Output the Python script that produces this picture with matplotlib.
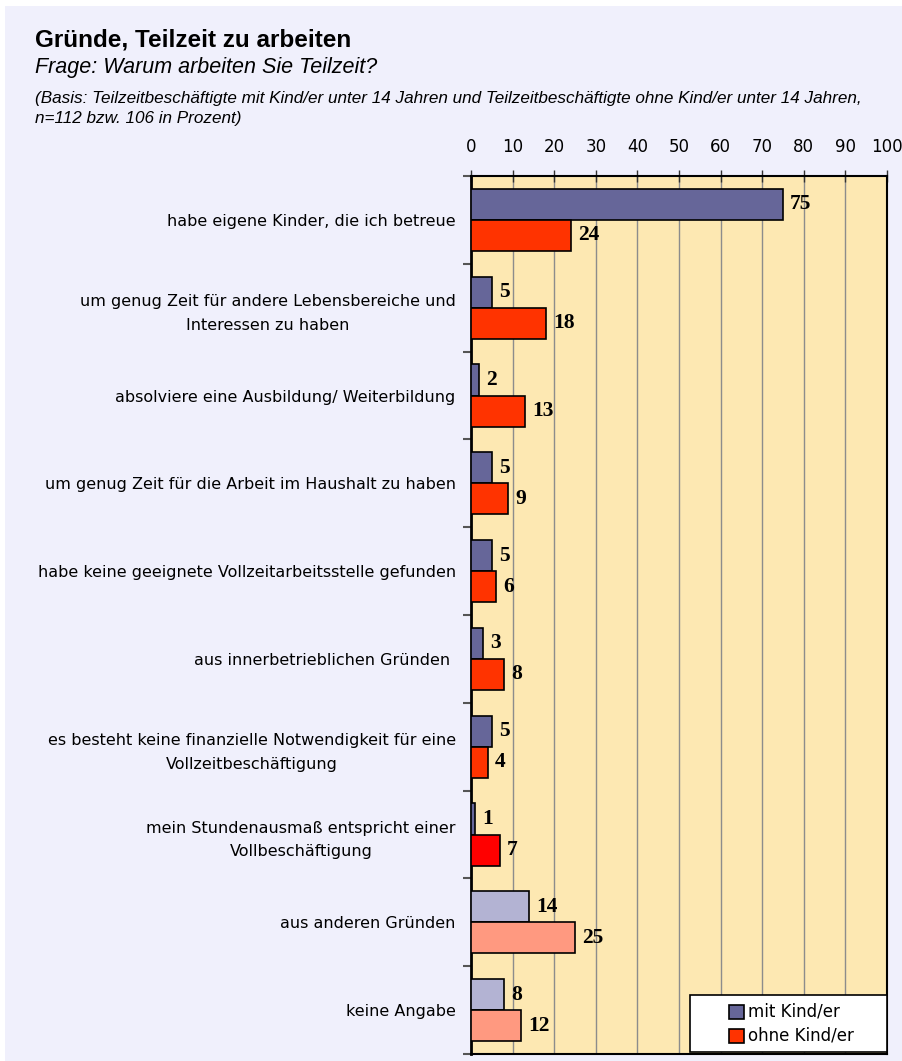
import matplotlib
matplotlib.use("Agg")
import matplotlib.pyplot as plt
from matplotlib.patches import Rectangle
import matplotlib.transforms as mtransforms
import numpy as np

categories = [
    "habe eigene Kinder, die ich betreue",
    "um genug Zeit für andere Lebensbereiche und\nInteressen zu haben",
    "absolviere eine Ausbildung/ Weiterbildung",
    "um genug Zeit für die Arbeit im Haushalt zu haben",
    "habe keine geeignete Vollzeitarbeitsstelle gefunden",
    "aus innerbetrieblichen Gründen ",
    "es besteht keine finanzielle Notwendigkeit für eine\nVollzeitbeschäftigung",
    "mein Stundenausmaß entspricht einer\nVollbeschäftigung",
    "aus anderen Gründen",
    "keine Angabe",
]
mit_kind = [75, 5, 2, 5, 5, 3, 5, 1, 14, 8]
ohne_kind = [24, 18, 13, 9, 6, 8, 4, 7, 25, 12]
x_ticks = [0, 10, 20, 30, 40, 50, 60, 70, 80, 90, 100]
series_names = ["mit Kind/er", "ohne Kind/er"]
series_colors = ["#666699", "#FF3300"]

mit_colors = ["#666699"] * 8 + ["#B3B3D3", "#B3B3D3"]
ohne_colors = ["#FF3300"] * 7 + ["#FF0000"] + ["#FF9980", "#FF9980"]

W, H = 903, 1061
fig = plt.figure(figsize=(W / 100, H / 100), dpi=100)
fig.patch.set_facecolor("white")
fig.patches.append(Rectangle((5 / W, 0), 1, 1 - 6 / H, transform=fig.transFigure,
                             facecolor="#F0F0FC", edgecolor="none", zorder=-10))

left, right, top, bottom = 471, 887, 176, 1054
ax = fig.add_axes([left / W, 1 - bottom / H, (right - left) / W, (bottom - top) / H])
ax.set_facecolor("#FDE8B2")

n = len(categories)
centers = np.arange(n) + 0.5
h = 0.355
ax.barh(centers - h / 2, mit_kind, height=h, color=mit_colors, edgecolor="black",
        linewidth=1.2, zorder=3)
ax.barh(centers + h / 2, ohne_kind, height=h, color=ohne_colors, edgecolor="black",
        linewidth=1.2, zorder=3)

off = mtransforms.offset_copy(ax.transData, fig=fig, x=7, y=0, units="dots")
for c, v in zip(centers, mit_kind):
    ax.text(v, c - h / 2, str(v), transform=off, ha="left", va="center",
            fontsize=15.5, fontweight="bold", family="Liberation Serif", zorder=4)
for c, v in zip(centers, ohne_kind):
    ax.text(v, c + h / 2, str(v), transform=off, ha="left", va="center",
            fontsize=15.5, fontweight="bold", family="Liberation Serif", zorder=4)

ax.set_xlim(0, 100)
ax.set_ylim(n, 0)
ax.set_xticks(x_ticks)
ax.xaxis.tick_top()
ax.tick_params(axis="x", direction="inout", length=9, width=1, color="#333333",
               pad=10, labelsize=12)
for lab in ax.get_xticklabels():
    lab.set_family("DejaVu Sans")
ax.grid(axis="x", color="#8C8C8C", linewidth=1, zorder=1)

ax.set_yticks(np.arange(n + 1))
ax.set_yticklabels([])
ax.tick_params(axis="y", which="major", direction="out", length=6, width=1.5,
               color="#555555")
ax.set_yticks(centers, minor=True)
ax.set_yticklabels(categories, minor=True, fontsize=11.5, family="DejaVu Sans",
                   linespacing=1.7, multialignment="center")
ax.tick_params(axis="y", which="minor", length=0, pad=11)

for s in ["left", "bottom", "right", "top"]:
    ax.spines[s].set_color("black")
    ax.spines[s].set_linewidth(1.5)
ax.spines["left"].set_linewidth(2)


def fx(px):
    return px / W


def fy(py):
    return 1 - py / H


# legend box
fig.patches.append(Rectangle((fx(690), fy(1052)), (887 - 690) / W, (1052 - 995) / H,
                             transform=fig.transFigure, facecolor="white",
                             edgecolor="black", linewidth=1.2, zorder=20))
for i, (name, col) in enumerate(zip(series_names, series_colors)):
    yc = 1012 + i * 24
    fig.patches.append(Rectangle((fx(729), fy(yc + 7)), 15 / W, 14 / H,
                                 transform=fig.transFigure, facecolor=col,
                                 edgecolor="black", linewidth=1.2, zorder=21))
    fig.text(fx(748), fy(yc), name, fontsize=12, family="DejaVu Sans",
             va="center", ha="left", zorder=22)

fig.text(35 / W, 1 - 40 / H, "Gründe, Teilzeit zu arbeiten", fontsize=17.5, fontweight="bold",
         family="Liberation Sans", va="center", ha="left")
fig.text(35 / W, 1 - 67 / H, "Frage: Warum arbeiten Sie Teilzeit?", fontsize=15.5,
         style="italic", family="Liberation Sans", va="center", ha="left")
fig.text(35 / W, 1 - 98 / H,
         "(Basis: Teilzeitbeschäftigte mit Kind/er unter 14 Jahren und Teilzeitbeschäftigte ohne Kind/er unter 14 Jahren,",
         fontsize=12.3, style="italic", family="Liberation Sans", va="center", ha="left")
fig.text(35 / W, 1 - 119 / H, "n=112 bzw. 106 in Prozent)", fontsize=12.3, style="italic",
         family="Liberation Sans", va="center", ha="left")

fig.savefig("out.png", dpi=100, facecolor=fig.get_facecolor())
